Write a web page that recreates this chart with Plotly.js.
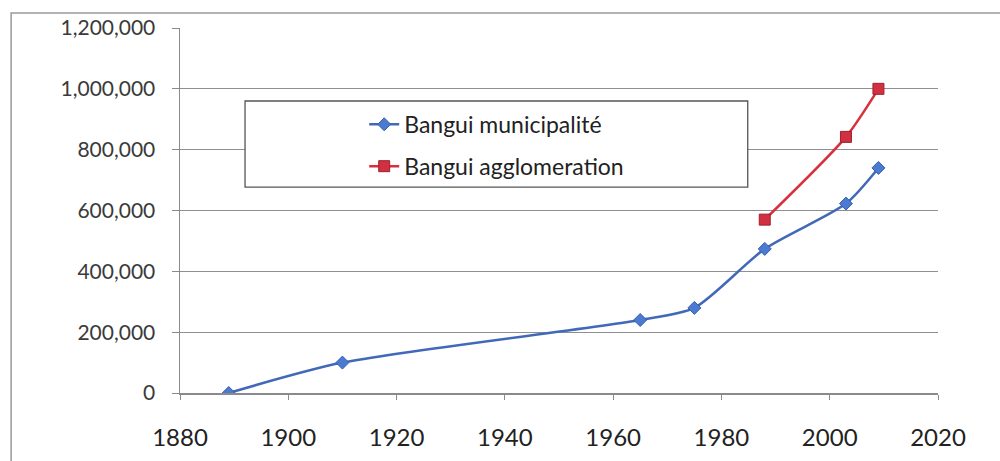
<!DOCTYPE html>
<html>
<head>
<meta charset="utf-8">
<script src="https://cdn.plot.ly/plotly-3.0.1.min.js"></script>
<style>html,body{margin:0;padding:0;background:#fff;}#chart{width:1000px;height:461px;}</style>
</head>
<body>
<div id="chart"></div>
<script>
const municipaliteYears = [1889, 1910, 1965, 1975, 1988, 2003, 2009];
const municipaliteValues = [0, 100000, 240000, 279792, 473817, 622771, 740000];
const agglomerationYears = [1988, 2003, 2009];
const agglomerationValues = [570000, 842000, 1000000];
const xTicks = [1880, 1900, 1920, 1940, 1960, 1980, 2000, 2020];
const yTicks = [0, 200000, 400000, 600000, 800000, 1000000, 1200000];
const yTickLabels = ['0', '200,000', '400,000', '600,000', '800,000', '1,000,000', '1,200,000'];

const traces = [
  {
    x: municipaliteYears, y: municipaliteValues, name: 'Bangui municipalité',
    type: 'scatter', mode: 'lines+markers', legendgroup: 'a',
    line: {color: '#4169b8', width: 2.5, shape: 'spline', smoothing: 0.7},
    marker: {symbol: 'diamond', size: 10, color: '#4a7bd0', line: {color: '#3a5ea8', width: 1}}
  },
  {
    x: agglomerationYears, y: agglomerationValues, name: 'Bangui agglomeration',
    type: 'scatter', mode: 'lines+markers', legendgroup: 'b',
    line: {color: '#d8303c', width: 2.5, shape: 'spline', smoothing: 0.7},
    marker: {symbol: 'square', size: 11, color: '#d03040', line: {color: '#a02030', width: 1}}
  }
];

const layout = {
  width: 1000, height: 461,
  margin: {l: 180, r: 62, t: 28, b: 68},
  paper_bgcolor: '#ffffff', plot_bgcolor: '#ffffff',
  font: {family: 'Lato, "Open Sans", sans-serif', color: '#333'},
  showlegend: true,
  legend: {
    x: 0.243, y: 0.795, xanchor: 'left', yanchor: 'top',
    bgcolor: 'rgba(0,0,0,0)', borderwidth: 0,
    traceorder: 'grouped', tracegroupgap: 9,
    font: {family: 'Lato, "Open Sans", sans-serif', size: 23, color: '#222'}
  },
  xaxis: {
    range: [1880, 2020], tickvals: xTicks, ticktext: xTicks.map(String),
    showgrid: false, zeroline: false, showline: true, linecolor: '#8a8a8a', linewidth: 1.5,
    ticks: 'outside', ticklen: 5, tickcolor: '#8a8a8a', ticklabelstandoff: 18,
    tickfont: {family: 'Lato, "Open Sans", sans-serif', size: 24, color: '#222'},
    fixedrange: true
  },
  yaxis: {
    range: [0, 1200000], tickvals: yTicks, ticktext: yTickLabels,
    showgrid: true, gridcolor: '#8f8f8f', gridwidth: 1.2, zeroline: false,
    showline: true, linecolor: '#8a8a8a', linewidth: 1.5,
    ticks: 'outside', ticklen: 7, tickcolor: '#8a8a8a', ticklabelstandoff: 12,
    tickfont: {family: 'Lato, "Open Sans", sans-serif', size: 21, color: '#3a3a3a'},
    fixedrange: true
  },
  shapes: [
    {type: 'rect', xref: 'paper', yref: 'paper', x0: 0.0858, x1: 0.749, y0: 0.564, y1: 0.8,
     line: {color: '#555', width: 1.3}, fillcolor: '#ffffff', layer: 'above'},
    {type: 'rect', xref: 'paper', yref: 'paper', x0: -0.2228, x1: 1.2, y0: -0.4, y1: 1.041,
     line: {color: '#999', width: 1.5}, fillcolor: 'rgba(0,0,0,0)', layer: 'below'}
  ]
};

Plotly.newPlot('chart', traces, layout, {displayModeBar: false, staticPlot: true});
</script>
</body>
</html>
